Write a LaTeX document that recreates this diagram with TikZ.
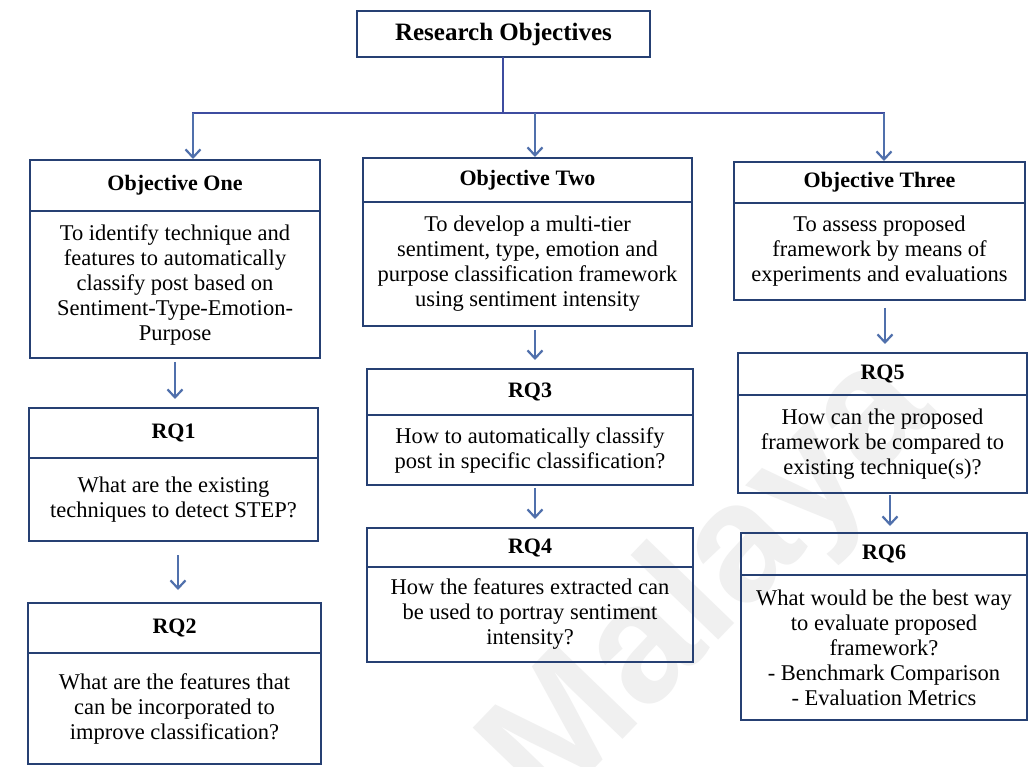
\documentclass[tikz,border=0pt]{standalone}
\usepackage{fontspec}
\setmainfont{Liberation Serif}
\newfontfamily\wmfont{Liberation Sans}
\usetikzlibrary{arrows.meta}
\definecolor{boxc}{RGB}{38,64,115}
\definecolor{arrc}{RGB}{80,112,172}
\definecolor{linec}{RGB}{62,76,160}
\definecolor{wmc}{RGB}{240,240,240}

\begin{document}
\begin{tikzpicture}[x=1pt,y=-1pt,
  frame/.style={draw=boxc, line width=2.8pt, inner sep=0pt, outer sep=0pt,
                anchor=north west, align=center},
  hdr/.style={frame, font=\bfseries\fontsize{22}{25}\selectfont},
  body/.style={frame, font=\fontsize{22.5}{25}\selectfont},
  link/.style={draw=linec, line width=2.2pt},
  arr/.style={draw=arrc, line width=2.2pt, shorten >=1pt,
              -{Straight Barb[length=8pt,width=15pt,line width=2.2pt]}},
]
\useasboundingbox[fill=white] (0,0) rectangle (1029,767);

% faint watermark behind the chart
\node[rotate=46, text=wmc, font=\wmfont\bfseries\fontsize{168}{168}\selectfont] (wm) at (712,585) {Malaya};

% root
\node[hdr, font=\bfseries\fontsize{25}{28}\selectfont, minimum width=293pt, minimum height=46pt] (top) at (357,11) {Research Objectives};

% objective one column
\node[hdr, minimum width=290pt, minimum height=51pt] (o1h) at (30,160) {Objective One};
\node[body, minimum width=290pt, minimum height=147pt] (o1b) at (o1h.south west)
  {To identify technique and\\features to automatically\\classify post based on\\Sentiment-Type-Emotion-\\Purpose};
\node[hdr, minimum width=289pt, minimum height=50pt] (q1h) at (29,408) {RQ1};
\node[body, minimum width=289pt, minimum height=83pt] (q1b) at (q1h.south west)
  {What are the existing\\techniques to detect STEP?};
\node[hdr, minimum width=293pt, minimum height=50pt] (q2h) at (28,603) {RQ2};
\node[body, minimum width=293pt, minimum height=111pt] (q2b) at (q2h.south west)
  {What are the features that\\can be incorporated to\\improve classification?};

% objective two column
\node[hdr, minimum width=329pt, minimum height=44pt] (o2h) at (363,158) {Objective Two};
\node[body, minimum width=329pt, minimum height=124pt] (o2b) at (o2h.south west)
  {To develop a multi-tier\\sentiment, type, emotion and\\purpose classification framework\\using sentiment intensity};
\node[hdr, minimum width=326pt, minimum height=46pt] (q3h) at (367,369) {RQ3};
\node[body, minimum width=326pt, minimum height=70pt] (q3b) at (q3h.south west)
  {How to automatically classify\\post in specific classification?};
\node[hdr, minimum width=326pt, minimum height=39pt] (q4h) at (367,528) {RQ4};
\node[body, minimum width=326pt, minimum height=95pt] (q4b) at (q4h.south west)
  {How the features extracted can\\be used to portray sentiment\\intensity?};

% objective three column
\node[hdr, minimum width=291pt, minimum height=41pt] (o3h) at (734,162) {Objective Three};
\node[body, minimum width=291pt, minimum height=97pt] (o3b) at (o3h.south west)
  {To assess proposed\\framework by means of\\experiments and evaluations};
\node[hdr, minimum width=289pt, minimum height=42pt] (q5h) at (738,353) {RQ5};
\node[body, minimum width=289pt, minimum height=98pt] (q5b) at (q5h.south west)
  {How can the proposed\\framework be compared to\\existing technique(s)?};
\node[hdr, minimum width=286pt, minimum height=42pt] (q6h) at (741,533) {RQ6};
\node[body, minimum width=286pt, minimum height=145pt] (q6b) at (q6h.south west)
  {What would be the best way\\to evaluate proposed\\framework?\\- Benchmark Comparison\\- Evaluation Metrics};

% branching from the root
\coordinate (hub) at (503,113);
\coordinate (jl) at (193,113);
\coordinate (jm) at (535,113);
\coordinate (jr) at (884,113);
\draw[link] (top.south -| hub) -- (hub);
\draw[link, line cap=rect] (jl) -- (jr);
\draw[arr] (jl) -- (jl |- o1h.north);
\draw[arr] (jm) -- (jm |- o2h.north);
\draw[arr] (jr) -- (jr |- o3h.north);

% downward steps inside each column
\coordinate (c1) at (175,0);
\coordinate (c1b) at (178,0);
\coordinate (c2) at (535,0);
\coordinate (c3) at (885,0);
\coordinate (c3b) at (890,0);
\draw[arr] ([yshift=-4pt]o1b.south -| c1) -- ([yshift=8pt]q1h.north -| c1);
\draw[arr] ([yshift=-14pt]q1b.south -| c1b) -- ([yshift=12pt]q2h.north -| c1b);
\draw[arr] ([yshift=-4pt]o2b.south -| c2) -- ([yshift=8pt]q3h.north -| c2);
\draw[arr] ([yshift=-3pt]q3b.south -| c2) -- ([yshift=8pt]q4h.north -| c2);
\draw[arr] ([yshift=-8pt]o3b.south -| c3) -- ([yshift=8pt]q5h.north -| c3);
\draw[arr] ([yshift=-2pt]q5b.south -| c3b) -- ([yshift=6pt]q6h.north -| c3b);
\end{tikzpicture}
\end{document}
